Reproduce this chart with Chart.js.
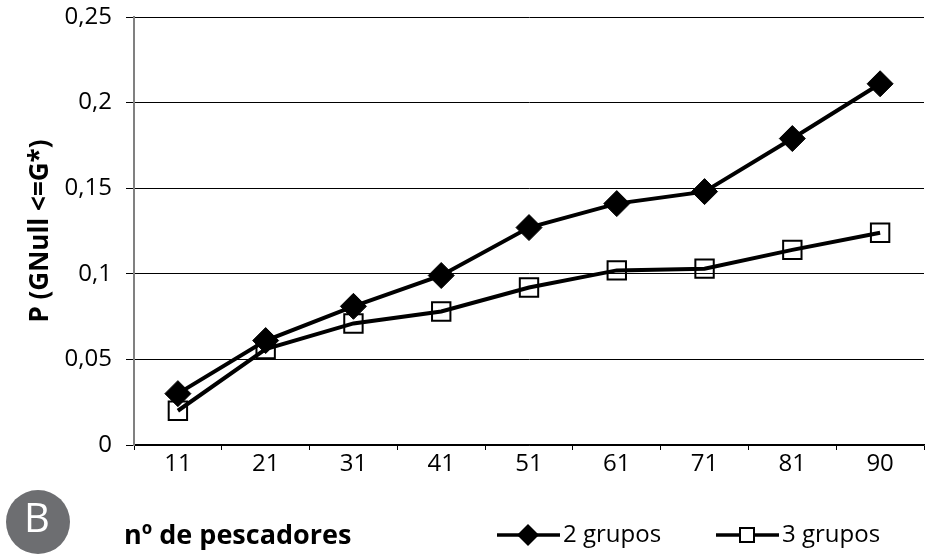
<!DOCTYPE html>
<html lang="pt">
<head>
<meta charset="UTF-8" />
<title>P (GNull <=G*) vs nº de pescadores</title>
<script src="https://cdn.jsdelivr.net/npm/chart.js"></script>
<style>
  html, body { margin: 0; padding: 0; background: #fff; }
  #wrap { width: 933px; height: 558px; position: relative; }
</style>
</head>
<body>
<div id="wrap"><canvas id="chart" width="933" height="558"></canvas></div>
<script>
// data
const pescadores = ["11", "21", "31", "41", "51", "61", "71", "81", "90"];
const dosGrupos = [0.030, 0.061, 0.081, 0.099, 0.127, 0.141, 0.148, 0.179, 0.211];
const tresGrupos = [0.020, 0.056, 0.071, 0.078, 0.092, 0.102, 0.103, 0.114, 0.124];
const yTicks = [0, 0.05, 0.1, 0.15, 0.2, 0.25];

const FONT = "'Open Sans', 'Noto Sans', sans-serif";

// draws the "B" badge, the x title and the legend under the plot
const extras = {
  id: "extras",
  afterDraw(chart) {
    const ctx = chart.ctx;
    ctx.save();
    // badge
    ctx.fillStyle = "#6d6e71";
    ctx.beginPath();
    ctx.arc(38, 522, 32, 0, Math.PI * 2);
    ctx.fill();
    ctx.fillStyle = "#fff";
    ctx.font = "40px " + FONT;
    ctx.textAlign = "center";
    ctx.textBaseline = "middle";
    ctx.fillText("B", 37, 521);

    // x axis title
    ctx.fillStyle = "#000";
    ctx.font = "bold 27px " + FONT;
    ctx.textAlign = "left";
    ctx.fillText("nº de pescadores", 124, 536);

    // legend
    const items = [
      { label: chart.data.datasets[0].label, x: 497, style: "diamond" },
      { label: chart.data.datasets[1].label, x: 716, style: "square" }
    ];
    items.forEach(it => {
      const y = 535;
      ctx.strokeStyle = "#000";
      ctx.lineWidth = 3.5;
      ctx.beginPath();
      ctx.moveTo(it.x, y);
      ctx.lineTo(it.x + 63, y);
      ctx.stroke();
      const cx = it.x + 31;
      if (it.style === "diamond") {
        ctx.fillStyle = "#000";
        ctx.beginPath();
        ctx.moveTo(cx, y - 11);
        ctx.lineTo(cx + 11, y);
        ctx.lineTo(cx, y + 11);
        ctx.lineTo(cx - 11, y);
        ctx.closePath();
        ctx.fill();
      } else {
        ctx.fillStyle = "#fff";
        ctx.lineWidth = 2;
        ctx.fillRect(cx - 7, y - 7, 14, 14);
        ctx.strokeRect(cx - 7, y - 7, 14, 14);
      }
      ctx.fillStyle = "#000";
      ctx.font = "24px " + FONT;
      ctx.textAlign = "left";
      ctx.fillText(it.label, it.x + 66, y);
    });
    ctx.restore();
  }
};

new Chart(document.getElementById("chart"), {
  type: "line",
  data: {
    labels: pescadores,
    datasets: [
      {
        label: "2 grupos",
        data: dosGrupos,
        borderColor: "#000",
        borderWidth: 4,
        pointStyle: "rectRot",
        pointRadius: 13,
        pointBackgroundColor: "#000",
        pointBorderColor: "#000",
        pointBorderWidth: 1,
        tension: 0
      },
      {
        label: "3 grupos",
        data: tresGrupos,
        borderColor: "#000",
        borderWidth: 4,
        pointStyle: "rect",
        pointRadius: 13,
        pointBackgroundColor: "rgba(255,255,255,0)",
        pointBorderColor: "#000",
        pointBorderWidth: 2,
        tension: 0
      }
    ]
  },
  options: {
    responsive: false,
    animation: false,
    devicePixelRatio: 1,
    layout: { autoPadding: false, padding: { top: 17, right: 9, left: 1, bottom: 80 } },
    plugins: {
      legend: { display: false },
      tooltip: { enabled: false }
    },
    scales: {
      x: {
        offset: true,
        afterFit(scale) {
          scale.height = 33;
          scale.paddingLeft = 0;
          scale.paddingRight = 0;
        },
        grid: {
          offset: true,
          drawOnChartArea: false,
          drawTicks: true,
          tickLength: 5,
          tickColor: "#000",
          lineWidth: 1
        },
        border: { color: "#000", width: 1.5 },
        ticks: {
          color: "#000",
          font: { family: FONT, size: 24 },
          padding: 0,
          maxRotation: 0
        }
      },
      y: {
        min: 0,
        max: 0.25,
        afterFit(scale) {
          scale.width = 133;
          scale.paddingTop = 0;
          scale.paddingBottom = 0;
        },
        afterBuildTicks(scale) { scale.ticks = yTicks.map(v => ({ value: v })); },
        grid: {
          color: "#000",
          lineWidth: 1,
          drawTicks: true,
          tickLength: 8,
          tickColor: "#000"
        },
        border: { color: "#808080", width: 2 },
        ticks: {
          color: "#000",
          font: { family: FONT, size: 24 },
          padding: 14,
          callback: v => String(v).replace(".", ",")
        },
        title: {
          display: true,
          text: "P (GNull <=G*)",
          color: "#000",
          font: { family: FONT, size: 26, weight: "bold" },
          padding: { top: 24, bottom: 0 }
        }
      }
    }
  },
  plugins: [extras]
});
</script>
</body>
</html>
